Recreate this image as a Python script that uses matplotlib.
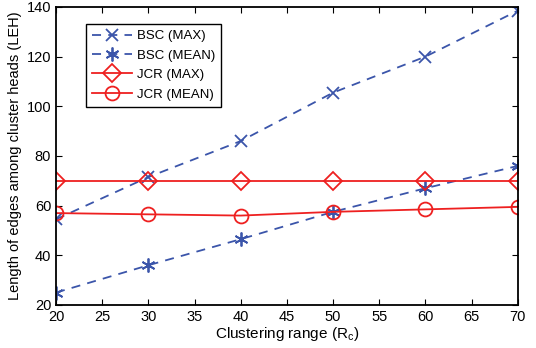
import matplotlib.pyplot as plt

RC = [20, 30, 40, 50, 60, 70]
BSC_MAX = [54.5, 71.5, 86, 105.5, 120, 138.5]
BSC_MEAN = [25, 36, 46.5, 57.5, 67, 76]
JCR_MAX = [70, 70, 70, 70, 70, 70]
JCR_MEAN = [57, 56.5, 56, 57.5, 58.5, 59.5]

BLUE = '#3b55aa'
RED = '#ee2020'

plt.rcParams['font.family'] = ['Liberation Sans', 'DejaVu Sans']

fig = plt.figure(figsize=(5.36, 3.48), dpi=100)
ax = fig.add_axes([0.1045, 0.1236, 0.8615, 0.8564])

ax.plot(RC, BSC_MAX, '--', color=BLUE, lw=1.3, marker='x', ms=8, mew=1.3,
        dashes=(5, 4), label='BSC (MAX)')
ax.plot(RC, BSC_MEAN, '--', color=BLUE, lw=1.3, marker=(6, 2, 0), ms=10, mew=1.3,
        dashes=(5, 4), label='BSC (MEAN)')
ax.plot(RC, JCR_MAX, '-', color=RED, lw=1.3, marker='D', ms=9, mew=1.3,
        mfc='none', label='JCR (MAX)')
ax.plot(RC, JCR_MEAN, '-', color=RED, lw=1.3, marker='o', ms=10, mew=1.3,
        mfc='none', label='JCR (MEAN)')

ax.set_xlim(20, 70)
ax.set_ylim(20, 140)
ax.set_xticks(range(20, 71, 5))
ax.set_yticks(range(20, 141, 20))
ax.tick_params(direction='in', labelsize=10.5, length=4, top=True, right=True)
for s in ax.spines.values():
    s.set_linewidth(1.3)

ax.set_xlabel('Clustering range (R$_\\mathregular{c}$)', fontsize=11, labelpad=1)
ax.set_ylabel('Length of edges among cluster heads (LEH)', fontsize=10.5, labelpad=3)

leg = ax.legend(loc='upper left', bbox_to_anchor=(0.065, 0.943), borderaxespad=0,
                fontsize=9.5, fancybox=False, edgecolor='black', framealpha=1,
                handlelength=3.0, handletextpad=0.4, borderpad=0.45,
                labelspacing=0.55)
leg.get_frame().set_linewidth(1.0)

fig.savefig('out.png', dpi=100)
